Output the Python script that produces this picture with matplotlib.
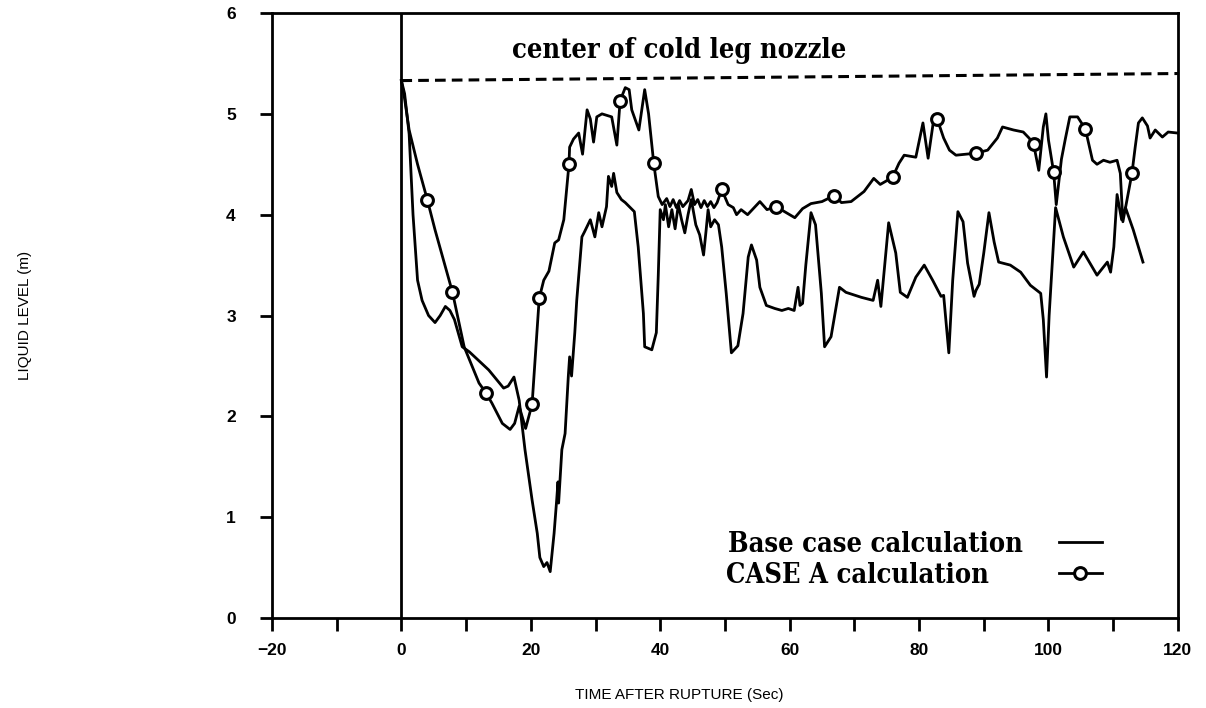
import numpy as np
import matplotlib.pyplot as plt
from matplotlib.ticker import MultipleLocator, FixedLocator

# liquid level histories, time (s) after rupture vs level (m)
base_t = [0, 0.5, 1.2, 1.8, 2.5, 3.2, 4.2, 5.2, 6.0, 6.8, 7.5, 8.2, 9.4, 10.5, 12.0,
          13.5, 15.8, 16.5, 17.4, 18.2, 19.1, 20.2, 21.0, 21.4, 22.0, 22.5, 23.0,
          23.6, 24.0, 24.2, 24.3, 24.8, 25.3, 25.8, 26.0, 26.3, 26.8, 27.1, 27.9,
          28.3, 29.2, 29.9, 30.5, 31.0, 31.7, 32.0, 32.5, 32.8, 33.3, 34.0, 34.6,
          36.0, 36.6, 37.4, 37.6, 38.7, 39.4, 39.7, 40.0, 40.5, 40.8, 41.3, 41.8,
          42.3, 42.8, 43.3, 43.8, 44.3, 44.8, 45.5, 46.1, 46.7, 47.1, 47.4, 47.8,
          48.4, 49.0, 49.5, 50.2, 51.0, 52.0, 52.8, 53.6, 54.1, 54.9, 55.4, 56.4,
          57.7, 58.8, 59.8, 60.7, 61.3, 61.6, 62.0, 62.5, 63.3, 64.0, 64.9, 65.4,
          66.4, 67.7, 68.7, 71.1, 72.9, 73.6, 74.1, 75.3, 76.4, 77.1, 78.2, 79.5,
          80.8, 82.1, 83.4, 83.8, 84.6, 85.2, 86.0, 86.8, 87.5, 88.5, 88.8, 89.3,
          90.0, 90.8, 91.6, 92.3, 94.1, 95.7, 97.2, 98.8, 99.2, 99.7, 100.1, 101.1,
          102.3, 103.9, 105.4, 107.5, 109.1, 109.6, 110.1, 110.6, 111.3, 111.9,
          113.1, 114.6]
base_level = [5.33, 5.2, 4.8, 4.0, 3.35, 3.15, 3.0, 2.93, 3.0, 3.09, 3.05, 2.96, 2.69,
              2.64, 2.55, 2.46, 2.28, 2.30, 2.39, 2.16, 1.67, 1.17, 0.84, 0.6, 0.51,
              0.55, 0.46, 0.84, 1.17, 1.35, 1.14, 1.67, 1.83, 2.4, 2.59, 2.4, 2.83,
              3.15, 3.78, 3.83, 3.95, 3.78, 4.02, 3.88, 4.08, 4.38, 4.28, 4.41, 4.22,
              4.15, 4.12, 4.03, 3.68, 3.02, 2.69, 2.66, 2.83, 3.4, 4.05, 3.95, 4.1,
              3.88, 4.05, 3.86, 4.1, 3.95, 3.82, 4.0, 4.15, 3.9, 3.8, 3.6, 3.85, 4.05,
              3.88, 3.95, 3.9, 3.68, 3.22, 2.63, 2.7, 3.02, 3.58, 3.7, 3.55, 3.28, 3.1,
              3.07, 3.05, 3.07, 3.05, 3.28, 3.1, 3.12, 3.5, 4.02, 3.9, 3.22, 2.69,
              2.79, 3.28, 3.23, 3.18, 3.15, 3.35, 3.09, 3.92, 3.62, 3.23, 3.18, 3.38,
              3.5, 3.35, 3.19, 3.2, 2.63, 3.35, 4.03, 3.93, 3.52, 3.19, 3.25, 3.31,
              3.62, 4.02, 3.73, 3.53, 3.5, 3.43, 3.3, 3.22, 2.96, 2.39, 3.0, 4.07,
              3.78, 3.48, 3.63, 3.4, 3.53, 3.43, 3.68, 4.2, 3.95, 4.07, 3.85, 3.53]

casea_t = [0, 0.5, 1.2, 2.5, 4.0, 5.2, 6.5, 7.9, 9.7, 12.0, 13.1, 14.0, 15.6, 16.8,
           17.5, 18.2, 19.2, 20.2, 21.3, 22.0, 22.8, 23.7, 24.3, 25.1, 25.9, 26.0,
           26.6, 27.4, 28.0, 28.7, 29.2, 29.7, 30.2, 31.0, 32.5, 33.3, 33.8, 34.6,
           35.2, 35.6, 36.7, 37.6, 38.2, 39.0, 39.7, 40.3, 41.0, 41.5, 42.0, 42.5,
           43.0, 43.5, 44.3, 44.8, 45.3, 45.8, 46.3, 46.8, 47.3, 47.8, 48.3, 48.8,
           49.5, 50.5, 51.3, 51.8, 52.5, 53.5, 55.4, 56.5, 57.9, 59.5, 60.8, 62.0,
           63.3, 65.0, 66.9, 68.0, 69.5, 71.5, 72.3, 73.0, 74.0, 75.9, 76.9, 77.7,
           79.5, 80.6, 81.4, 82.3, 82.8, 83.8, 84.7, 85.7, 88.8, 90.6, 92.1, 92.9,
           94.6, 96.1, 97.0, 97.7, 98.5, 99.2, 99.6, 100.0, 100.8, 101.2, 102.0,
           102.6, 103.3, 104.5, 105.7, 106.8, 107.5, 108.5, 109.5, 110.6, 111.1,
           111.5, 112.9, 113.4, 113.9, 114.5, 115.3, 115.7, 116.5, 117.6, 118.5,
           119.9]
casea_level = [5.33, 5.15, 4.84, 4.5, 4.15, 3.85, 3.55, 3.23, 2.69, 2.33, 2.23, 2.13,
               1.93, 1.87, 1.93, 2.1, 1.88, 2.12, 3.17, 3.35, 3.44, 3.72, 3.75, 3.95,
               4.5, 4.67, 4.75, 4.81, 4.6, 5.04, 4.95, 4.72, 4.97, 5.0, 4.97, 4.69,
               5.13, 5.26, 5.24, 5.04, 4.84, 5.24, 5.0, 4.51, 4.18, 4.1, 4.16, 4.08,
               4.15, 4.07, 4.14, 4.08, 4.14, 4.25, 4.1, 4.15, 4.07, 4.14, 4.08, 4.13,
               4.07, 4.12, 4.25, 4.1, 4.07, 4.0, 4.05, 4.0, 4.13, 4.05, 4.08, 4.02,
               3.97, 4.06, 4.11, 4.13, 4.19, 4.12, 4.13, 4.23, 4.3, 4.36, 4.3, 4.37,
               4.51, 4.59, 4.57, 4.91, 4.56, 4.96, 4.95, 4.76, 4.64, 4.59, 4.61, 4.64,
               4.76, 4.87, 4.84, 4.82, 4.76, 4.70, 4.44, 4.87, 5.0, 4.74, 4.42, 4.1,
               4.55, 4.75, 4.97, 4.97, 4.85, 4.54, 4.5, 4.54, 4.52, 4.54, 4.41, 3.93,
               4.41, 4.67, 4.91, 4.96, 4.88, 4.76, 4.84, 4.77, 4.82, 4.81]

# times at which CASE A carries a circle symbol
casea_symbols = [4.0, 7.9, 13.1, 20.2, 21.3, 25.9, 33.8, 39.0, 49.5, 57.9, 66.9,
                 75.9, 82.8, 88.8, 97.7, 100.8, 105.7, 112.9]

nozzle_t = [0, 120]
nozzle_level = [5.33, 5.40]

serif = dict(family='DejaVu Serif', stretch='condensed', weight='bold')

fig = plt.figure(figsize=(12.06, 7.08), dpi=100)
ax = fig.add_axes([0.2255, 0.1271, 0.7512, 0.8545])

ax.plot(base_t, base_level, color='black', lw=2.0, label='Base case calculation')
marks = list(np.where(np.isin(casea_t, casea_symbols))[0])
ax.plot(casea_t, casea_level, color='black', lw=2.0, marker='o', markevery=marks,
        markersize=8.5, markerfacecolor='white', markeredgewidth=2.2,
        label='CASE A calculation    ')
ax.plot(nozzle_t, nozzle_level, color='black', lw=2.2, ls=(0, (3.5, 2)))
ax.axvline(0, color='black', lw=2.0)

ax.text(17.1, 5.63, 'center of cold leg nozzle', fontsize=19.5, va='center', **serif)

# labels are right-aligned by the legend packer; trailing spaces square them up
leg = ax.legend(loc='lower right', bbox_to_anchor=(0.943, 0.008), frameon=False,
                markerfirst=False, handlelength=1.6, numpoints=1,
                labelspacing=0.15, handletextpad=1.3,
                prop=dict(size=19.5, **serif))

ax.set_xlim(-20, 120)
ax.set_ylim(0, 6)
ax.xaxis.set_major_locator(FixedLocator([-20, 0, 20, 40, 60, 80, 100, 120]))
ax.xaxis.set_minor_locator(MultipleLocator(10))
ax.yaxis.set_major_locator(MultipleLocator(1))
ax.set_xticklabels(['\u221220', '0', '20', '40', '60', '80', '100', '120'])

ax.tick_params(which='both', direction='out', length=9, width=2.0, color='black')
ax.tick_params(axis='x', pad=9)
ax.tick_params(axis='y', pad=17)
for lbl in ax.get_xticklabels() + ax.get_yticklabels():
    lbl.set_fontfamily('Liberation Sans')
    lbl.set_fontweight('bold')
    lbl.set_fontsize(12.5)

for s in ax.spines.values():
    s.set_linewidth(2.0)

ax.set_xlabel('TIME AFTER RUPTURE (Sec)', family='Liberation Sans', fontsize=11)
ax.set_ylabel('LIQUID LEVEL (m)', family='Liberation Sans', fontsize=11)
ax.xaxis.set_label_coords(0.45, -0.115)
ax.yaxis.set_label_coords(-0.265, 0.5)

plt.savefig('out.png', dpi=100)
